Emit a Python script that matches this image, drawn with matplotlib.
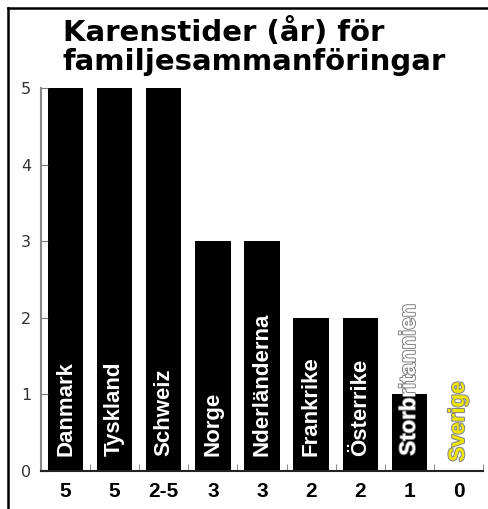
import numpy as np
import matplotlib
matplotlib.use('Agg')
import matplotlib.pyplot as plt
import matplotlib.patheffects as pe
from matplotlib.lines import Line2D

# Data
lander = ['Danmark', 'Tyskland', 'Schweiz', 'Norge', 'Nderländerna',
          'Frankrike', 'Österrike', 'Storbritannien', 'Sverige']
ar = [5, 5, 5, 3, 3, 2, 2, 1, 0]
ar_text = ['5', '5', '2-5', '3', '3', '2', '2', '1', '0']

fig = plt.figure(figsize=(4.89, 5.09), dpi=100)
ax = fig.add_axes([0.0838, 0.0747, 0.904, 0.7525])

x = np.arange(len(lander))
ax.bar(x, ar, width=0.72, color='black')

# Namn i staplarna
for i, namn in enumerate(lander):
    farg = 'white'
    effekt = None
    botten = 0.2
    if namn == 'Storbritannien':
        effekt = [pe.withStroke(linewidth=1.3, foreground='#777777')]
    if namn == 'Sverige':
        farg = '#eee600'
        effekt = [pe.withStroke(linewidth=1.5, foreground='#888888')]
        botten = 0.12
    ax.text(x[i], botten, namn, rotation=90, ha='center', va='bottom',
            color=farg, fontsize=16, fontweight='bold',
            family='Liberation Sans', path_effects=effekt)

ax.set_xlim(-0.5, len(lander) - 0.5)
ax.set_ylim(0, 5)

# Axlar och ticks
ax.set_xticks(x)
ax.set_xticklabels(ar_text, fontsize=15, fontweight='bold', family='Liberation Sans')
ax.tick_params(axis='x', length=0, pad=8)
ax.set_xticks(np.arange(-0.5, len(lander), 1.0)[1:], minor=True)
ax.tick_params(axis='x', which='minor', direction='in', length=5, color='#777777')

ax.set_yticks(range(0, 6))
ax.tick_params(axis='y', direction='in', length=5, color='#777777',
               labelsize=11.5, labelcolor='#333333', pad=7)

ax.spines['top'].set_visible(False)
ax.spines['right'].set_visible(False)
ax.spines['left'].set_color('#888888')
ax.spines['left'].set_linewidth(1.5)
ax.spines['bottom'].set_color('#222222')
ax.spines['bottom'].set_linewidth(1.5)

# Rubrik
fig.text(63 / 489, 1 - 18 / 509, 'Karenstider (år) för\nfamiljesammanföringar',
         ha='left', va='top', fontsize=21, fontweight='bold',
         family='DejaVu Sans', linespacing=1.05)

# Ram till vänster och överst
fig.add_artist(Line2D([8 / 489, 8 / 489], [0, 1 - 8 / 509], color='black', lw=1.8))
fig.add_artist(Line2D([8 / 489, 1], [1 - 8 / 509, 1 - 8 / 509], color='black', lw=1.8))

plt.savefig('out.png', dpi=100)
